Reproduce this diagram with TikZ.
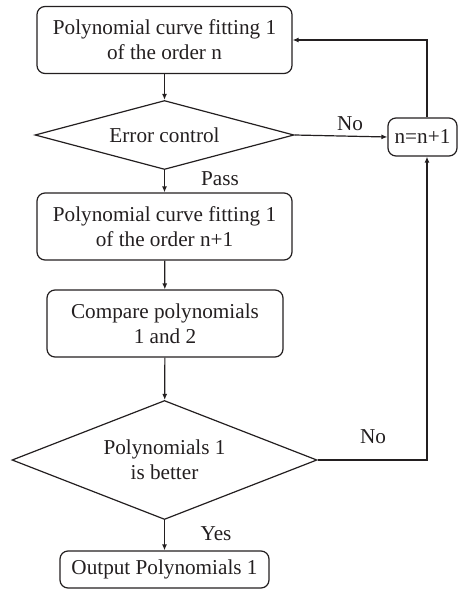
\documentclass[tikz,border=0pt]{standalone}
\usepackage{fontspec}
\setmainfont{Liberation Serif}
\usetikzlibrary{shapes.geometric,arrows.meta}
\definecolor{ink}{HTML}{231F20}
\tikzset{
  procbox/.style={%
    draw=ink, text=ink, line width=1.2pt, rounded corners=8pt,
    align=center, inner sep=0pt,
  },
  testbox/.style={%
    draw=ink, text=ink, line width=1.2pt, shape=diamond,
    align=center, inner sep=0pt,
  },
  flow/.style={draw=ink, line width=1.2pt, -{Latex[length=6pt,width=5pt]}},
  tag/.style={text=ink, font=\flowfont},
  every node/.append style={font=\flowfont},
}
\newcommand{\flowfont}{\fontsize{21.2}{25}\selectfont}

\begin{document}
\begin{tikzpicture}[x=1pt,y=-1pt]
\useasboundingbox (0,0) rectangle (458,589);
% boxes and tests
\node[procbox,minimum width=255pt,minimum height=67pt] (fit1) at (164.5,40)
  {Polynomial curve fitting 1\\of the order n};
\node[testbox,shape aspect=3.75,minimum width=259pt,minimum height=69pt] (err) at (164.5,135)
  {Error control};
\node[procbox,minimum width=69pt,minimum height=38pt] (incr) at (422.5,137)
  {n=n+1};
\node[procbox,minimum width=255pt,minimum height=67pt] (fit2) at (164.5,226.5)
  {Polynomial curve fitting 1\\of the order n+1};
\node[procbox,minimum width=236pt,minimum height=67pt] (cmp) at (165,323.5)
  {Compare polynomials\\1 and 2};
\node[testbox,shape aspect=2.56,minimum width=305pt,minimum height=119pt] (better) at (164.5,460)
  {Polynomials 1\\is better};
\node[procbox,minimum width=209pt,minimum height=37pt] (out) at (164.5,569.5)
  {Output Polynomials 1};
% connectors
\draw[flow] (fit1) -- (err);
\draw[flow] (err.east) -- (incr.west);
\draw[flow] (err) -- (fit2);
\draw[flow] (fit2) -- (cmp);
\draw[flow] (cmp) -- (better);
\draw[flow] (better) -- (out);
\draw[flow] (better.east) -| ([xshift=4.5pt]incr.south);
\draw[flow] ([xshift=4.5pt]incr.north) |- (fit1.east);
% labels
\node[tag] (no1) at (350,124) {No};
\node[tag] (pass) at (220,179) {Pass};
\node[tag] (no2) at (373,437) {No};
\node[tag] (yes) at (216,534) {Yes};
\end{tikzpicture}
\end{document}
